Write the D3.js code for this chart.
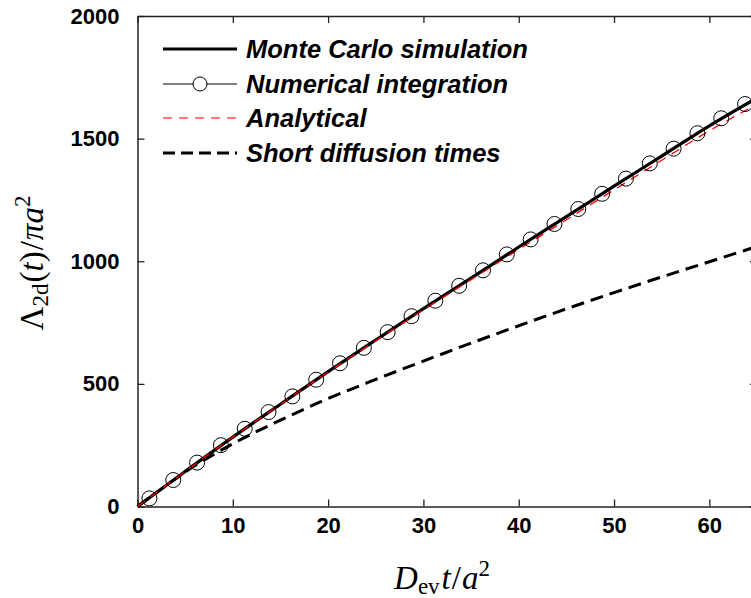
<!DOCTYPE html>
<html>
<head>
<meta charset="utf-8">
<script src="https://cdn.jsdelivr.net/npm/d3@7"></script>
<style>
  body { margin: 0; background: #fff; }
  svg { display: block; }
</style>
</head>
<body>
<svg id="chart" width="751" height="598"></svg>
<script>
// values
var mcT = [0, 5, 10, 15, 20, 25, 30, 35, 40, 45, 50, 55, 60, 65];
var mcVals = [0, 143, 283, 417, 550, 679, 807, 931, 1058, 1182, 1306, 1429, 1552, 1666];

var numT = [1.25, 3.75, 6.25, 8.75, 11.25, 13.75, 16.25, 18.75, 21.25, 23.75, 26.25, 28.75, 31.25,
            33.75, 36.25, 38.75, 41.25, 43.75, 46.25, 48.75, 51.25, 53.75, 56.25, 58.75, 61.25, 63.75];
var numVals = [33, 108, 179, 250, 317, 385, 449, 517, 584, 647, 711, 776, 839,
               900, 963, 1028, 1089, 1152, 1213, 1275, 1337, 1399, 1459, 1522, 1583, 1641];

var anT = [0, 5, 10, 15, 20, 25, 30, 35, 40, 45, 50, 55, 60, 65];
var anVals = [0, 143, 283, 416, 548, 676, 802, 925, 1048, 1169, 1291, 1412, 1532, 1640];

var shortT = [0, 2, 4, 6, 8, 10, 15, 20, 25, 30, 35, 40, 45, 50, 55, 60, 65];
var shortVals = [0, 57, 113, 166, 212, 256, 352, 440, 518, 593, 666, 737, 806, 872, 936, 998, 1060];

var xTicks = [0, 10, 20, 30, 40, 50, 60];
var yTicks = [0, 500, 1000, 1500, 2000];
var legendLabels = ["Monte Carlo simulation", "Numerical integration", "Analytical", "Short diffusion times"];

var svg = d3.select("#chart");

var x = d3.scaleLinear().domain([0, 65]).range([137.5, 757]);
var y = d3.scaleLinear().domain([0, 2000]).range([506.5, 16]);

var tickFont = "'Liberation Sans', Arial, sans-serif";

function styleAxis(g) {
  g.selectAll("path.domain").attr("stroke", "#222").attr("stroke-width", 1.5);
  g.selectAll(".tick line").attr("stroke", "#222").attr("stroke-width", 1.3);
  g.selectAll(".tick text")
    .attr("font-family", tickFont)
    .attr("font-weight", "bold")
    .attr("font-size", 22)
    .attr("fill", "#000");
}

// frame: top and right, ticks only
svg.append("g")
  .attr("transform", "translate(0," + y(2000) + ")")
  .call(d3.axisTop(x).tickValues(xTicks).tickSizeInner(-7).tickSizeOuter(0).tickFormat(""))
  .call(styleAxis);
svg.append("g")
  .attr("transform", "translate(" + x(65) + ",0)")
  .call(d3.axisRight(y).tickValues(yTicks).tickSizeInner(-7).tickSizeOuter(0).tickFormat(""))
  .call(styleAxis);

svg.append("g")
  .attr("transform", "translate(0," + y(0) + ")")
  .call(d3.axisBottom(x).tickValues(xTicks).tickSizeInner(-7).tickSizeOuter(0).tickPadding(11).tickFormat(d3.format("d")))
  .call(styleAxis);

svg.append("g")
  .attr("transform", "translate(" + x(0) + ",0)")
  .call(d3.axisLeft(y).tickValues(yTicks).tickSizeInner(-7).tickSizeOuter(0).tickPadding(18).tickFormat(d3.format("d")))
  .call(styleAxis);

function pairs(ts, vs) {
  return ts.map(function(t, i) { return [t, vs[i]]; });
}

var line = d3.line()
  .x(function(d) { return x(d[0]); })
  .y(function(d) { return y(d[1]); })
  .curve(d3.curveMonotoneX);

var plot = svg.append("g");

plot.append("path")
  .attr("d", line(pairs(shortT, shortVals)))
  .attr("fill", "none")
  .attr("stroke", "#000")
  .attr("stroke-width", 3)
  .attr("stroke-dasharray", "13,7");

plot.append("path")
  .attr("d", line(pairs(numT, numVals)))
  .attr("fill", "none")
  .attr("stroke", "#000")
  .attr("stroke-width", 1);

plot.append("path")
  .attr("d", line(pairs(mcT, mcVals)))
  .attr("fill", "none")
  .attr("stroke", "#000")
  .attr("stroke-width", 3.2);

plot.append("path")
  .attr("d", line(pairs(anT, anVals)))
  .attr("fill", "none")
  .attr("stroke", "#ff0000")
  .attr("stroke-width", 1.3)
  .attr("stroke-dasharray", "9,7");

plot.selectAll("circle.num")
  .data(pairs(numT, numVals))
  .enter()
  .append("circle")
  .attr("class", "num")
  .attr("cx", function(d) { return x(d[0]); })
  .attr("cy", function(d) { return y(d[1]); })
  .attr("r", 7.5)
  .attr("fill", "none")
  .attr("stroke", "#000")
  .attr("stroke-width", 1);

// legend
var legRows = [49, 84, 118, 153];
var legStyles = [
  { color: "#000", width: 3, dash: null, marker: false },
  { color: "#000", width: 1, dash: null, marker: true },
  { color: "#ff5050", width: 1.5, dash: "9,7", marker: false },
  { color: "#000", width: 3, dash: "12,6", marker: false }
];

var leg = svg.append("g");
legendLabels.forEach(function(label, i) {
  var s = legStyles[i];
  var ln = leg.append("line")
    .attr("x1", 163).attr("x2", 237)
    .attr("y1", legRows[i]).attr("y2", legRows[i])
    .attr("stroke", s.color)
    .attr("stroke-width", s.width);
  if (s.dash) ln.attr("stroke-dasharray", s.dash);
  if (s.marker) {
    leg.append("circle")
      .attr("cx", 200).attr("cy", legRows[i]).attr("r", 7)
      .attr("fill", "#fff").attr("stroke", "#000").attr("stroke-width", 1);
  }
  leg.append("text")
    .attr("x", 246)
    .attr("y", legRows[i] + 9)
    .attr("font-family", tickFont)
    .attr("font-weight", "bold")
    .attr("font-style", "italic")
    .attr("font-size", 25.5)
    .attr("fill", "#000")
    .text(label);
});

// axis titles
var mathFont = "'Liberation Serif', 'Times New Roman', serif";

var xt = svg.append("text")
  .attr("x", 442)
  .attr("y", 589)
  .attr("text-anchor", "middle")
  .attr("font-family", mathFont)
  .attr("font-size", 33);
xt.append("tspan").attr("font-style", "italic").text("D");
xt.append("tspan").attr("font-size", 23).attr("dy", 5).text("ev");
xt.append("tspan").attr("font-style", "italic").attr("dy", -5).attr("dx", 2).text("t");
xt.append("tspan").attr("dx", 1).text("/");
xt.append("tspan").attr("font-style", "italic").attr("dx", 1).text("a");
xt.append("tspan").attr("font-size", 23).attr("dy", -13).text("2");

var yt = svg.append("text")
  .attr("transform", "translate(43,263) rotate(-90)")
  .attr("text-anchor", "middle")
  .attr("font-family", mathFont)
  .attr("font-size", 33);
yt.append("tspan").text("Λ");
yt.append("tspan").attr("font-size", 23).attr("dy", 5).text("2d");
yt.append("tspan").attr("dy", -5).attr("dx", 1).text("(");
yt.append("tspan").attr("font-style", "italic").text("t");
yt.append("tspan").text(")");
yt.append("tspan").attr("dx", 1).text("/");
yt.append("tspan").attr("font-style", "italic").attr("dx", 1).text("πa");
yt.append("tspan").attr("font-size", 23).attr("dy", -13).text("2");
</script>
</body>
</html>
